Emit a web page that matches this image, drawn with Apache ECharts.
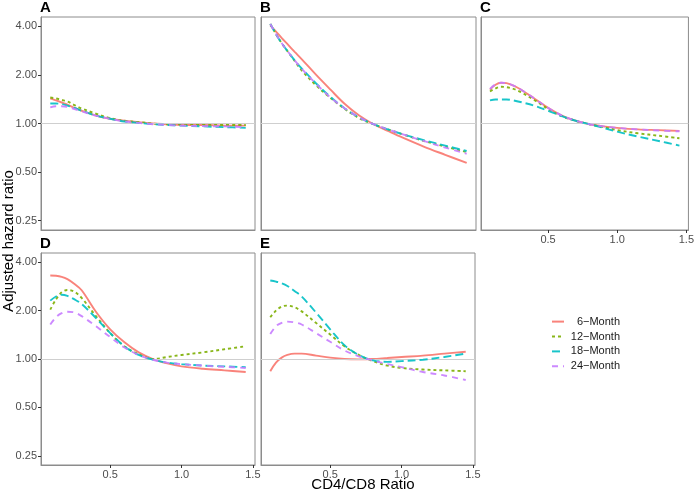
<!DOCTYPE html>
<html>
<head>
<meta charset="utf-8">
<script src="https://cdn.jsdelivr.net/npm/echarts@6/dist/echarts.min.js"></script>
<style>html,body{margin:0;padding:0;background:#fff;}#c{width:697px;height:493px;}</style>
</head>
<body>
<div id="c"></div>
<script>
// ---- data ----
const X = [0.08, 0.12, 0.16, 0.2, 0.25, 0.3, 0.4, 0.5, 0.6, 0.7, 0.8, 0.9, 1.0, 1.15, 1.3, 1.45];
const seriesNames = ['6\u2212Month', '12\u2212Month', '18\u2212Month', '24\u2212Month'];
const panelLabels = ['A', 'B', 'C', 'D', 'E'];
const yTicks = [0.25, 0.5, 1, 2, 4];
const xTicks = [0.5, 1.0, 1.5];

const A_m6  = [1.43, 1.39, 1.35, 1.31, 1.25, 1.20, 1.12, 1.07, 1.04, 1.02, 1.00, 0.99, 0.98, 0.98, 0.97, 0.97];
const A_m12 = [1.45, 1.43, 1.40, 1.37, 1.30, 1.24, 1.15, 1.08, 1.04, 1.02, 1.00, 0.99, 0.99, 0.985, 0.98, 0.98];
const A_m18 = [1.33, 1.33, 1.32, 1.29, 1.25, 1.20, 1.12, 1.07, 1.03, 1.01, 0.99, 0.98, 0.97, 0.96, 0.95, 0.94];
const A_m24 = [1.26, 1.28, 1.28, 1.27, 1.23, 1.19, 1.12, 1.07, 1.03, 1.01, 0.99, 0.98, 0.97, 0.965, 0.96, 0.95];

const B_m6  = [4.06, 3.71, 3.38, 3.10, 2.78, 2.50, 2.00, 1.62, 1.32, 1.12, 0.99, 0.90, 0.82, 0.72, 0.64, 0.57];
const B_m12 = [4.14, 3.58, 3.14, 2.81, 2.44, 2.13, 1.72, 1.44, 1.23, 1.08, 0.99, 0.92, 0.86, 0.78, 0.72, 0.665];
const B_m18 = [4.14, 3.58, 3.14, 2.81, 2.46, 2.19, 1.77, 1.46, 1.24, 1.09, 0.99, 0.92, 0.86, 0.79, 0.73, 0.676];
const B_m24 = [4.14, 3.58, 3.14, 2.81, 2.46, 2.18, 1.76, 1.45, 1.24, 1.09, 0.99, 0.92, 0.86, 0.78, 0.71, 0.65];

const C_m6  = [1.62, 1.74, 1.79, 1.78, 1.72, 1.63, 1.43, 1.25, 1.12, 1.04, 0.99, 0.96, 0.94, 0.92, 0.91, 0.90];
const C_m12 = [1.58, 1.65, 1.69, 1.68, 1.64, 1.57, 1.40, 1.23, 1.11, 1.04, 0.99, 0.95, 0.91, 0.87, 0.84, 0.81];
const C_m18 = [1.39, 1.41, 1.41, 1.41, 1.39, 1.36, 1.29, 1.20, 1.11, 1.04, 0.99, 0.94, 0.89, 0.83, 0.78, 0.73];
const C_m24 = [1.64, 1.75, 1.79, 1.78, 1.72, 1.63, 1.43, 1.25, 1.12, 1.04, 0.99, 0.96, 0.94, 0.92, 0.905, 0.895];

const D_m6  = [3.31, 3.30, 3.25, 3.14, 2.93, 2.68, 1.97, 1.53, 1.27, 1.10, 1.00, 0.94, 0.90, 0.87, 0.85, 0.83];
const D_m12 = [2.03, 2.35, 2.60, 2.69, 2.62, 2.40, 1.85, 1.45, 1.20, 1.07, 1.00, 1.03, 1.06, 1.10, 1.15, 1.20];
const D_m18 = [2.31, 2.45, 2.51, 2.47, 2.35, 2.20, 1.80, 1.45, 1.20, 1.06, 0.99, 0.95, 0.93, 0.91, 0.90, 0.89];
const D_m24 = [1.64, 1.82, 1.93, 1.97, 1.95, 1.85, 1.60, 1.37, 1.18, 1.06, 0.99, 0.95, 0.93, 0.91, 0.895, 0.88];

const E_m6  = [0.84, 0.95, 1.02, 1.06, 1.08, 1.08, 1.05, 1.02, 1.00, 0.995, 1.00, 1.015, 1.03, 1.05, 1.08, 1.11];
const E_m12 = [1.82, 2.00, 2.12, 2.15, 2.10, 1.98, 1.68, 1.42, 1.20, 1.06, 0.97, 0.91, 0.88, 0.86, 0.85, 0.84];
const E_m18 = [3.08, 3.03, 2.96, 2.85, 2.65, 2.45, 1.95, 1.53, 1.22, 1.06, 0.98, 0.96, 0.97, 0.99, 1.03, 1.08];
const E_m24 = [1.43, 1.60, 1.68, 1.71, 1.69, 1.64, 1.45, 1.28, 1.13, 1.04, 0.98, 0.93, 0.89, 0.83, 0.79, 0.74];

const panels = [
  [A_m6, A_m12, A_m18, A_m24],
  [B_m6, B_m12, B_m18, B_m24],
  [C_m6, C_m12, C_m18, C_m24],
  [D_m6, D_m12, D_m18, D_m24],
  [E_m6, E_m12, E_m18, E_m24]
];

// ---- styling / layout ----
const colors = ['#F8766D', '#7CAE00', '#00BFC4', '#C77CFF'];
const dashes = ['solid', [3, 3], [8, 4], [6, 5]];
const grids = [
  {left: 41, top: 17, width: 214, height: 213},
  {left: 261, top: 17, width: 215, height: 213},
  {left: 481, top: 17, width: 213, height: 213},
  {left: 41, top: 253, width: 214, height: 212},
  {left: 261, top: 253, width: 214, height: 212}
];
const showYLab = [true, false, false, true, false];
const showXLab = [false, false, true, true, true];
const FONT = '"Liberation Sans", Arial, sans-serif';
const borderCol = '#8c8c8c';

const option = {
  animation: false,
  backgroundColor: '#ffffff',
  textStyle: {fontFamily: FONT},
  grid: grids.map(g => Object.assign({show: true, borderColor: borderCol, borderWidth: 1, backgroundColor: 'transparent', containLabel: false}, g)),
  xAxis: grids.map((g, i) => ({
    type: 'value', gridIndex: i, min: 0.015, max: 1.515,
    axisLine: {show: true, lineStyle: {color: borderCol, width: 1}},
    splitLine: {show: false},
    axisTick: {show: showXLab[i], length: 3, lineStyle: {color: '#333'}, customValues: xTicks},
    axisLabel: {show: showXLab[i], customValues: xTicks, margin: 4, fontSize: 11, color: '#4d4d4d', fontFamily: FONT,
      formatter: v => Number(v).toFixed(1)}
  })),
  yAxis: grids.map((g, i) => ({
    type: 'log', logBase: 2, gridIndex: i, min: 0.219, max: 4.57,
    axisLine: {show: true, lineStyle: {color: borderCol, width: 1}},
    splitLine: {show: false},
    axisTick: {show: showYLab[i], length: 3, lineStyle: {color: '#333'}, customValues: yTicks},
    axisLabel: {show: showYLab[i], customValues: yTicks, margin: 4, fontSize: 11, color: '#4d4d4d', fontFamily: FONT,
      formatter: v => Number(v).toFixed(2)}
  })),
  legend: {
    orient: 'vertical', left: 551, top: 316, padding: 0,
    itemWidth: 12, itemHeight: 14, itemGap: 3.7,
    data: seriesNames,
    itemStyle: {opacity: 0},
    textStyle: {fontSize: 11, color: '#1a1a1a', fontFamily: FONT,
      rich: {r: {width: 51, align: 'right', fontSize: 11, color: '#1a1a1a', fontFamily: FONT}}},
    formatter: n => '{r|' + n + '}'
  },
  graphic: [],
  series: []
};

panelLabels.forEach((lab, i) => {
  option.graphic.push({type: 'text', left: grids[i].left - 1, top: grids[i].top - 17,
    style: {text: lab, font: 'bold 15px ' + FONT, fill: '#000'}});
});
option.graphic.push({type: 'text', x: 363, y: 477,
  style: {text: 'CD4/CD8 Ratio', font: '15px ' + FONT, fill: '#000', textAlign: 'center', textVerticalAlign: 'top'}});
option.graphic.push({type: 'text', x: 1, y: 241, rotation: Math.PI / 2,
  style: {text: 'Adjusted hazard ratio', font: '15px ' + FONT, fill: '#000', textAlign: 'center', textVerticalAlign: 'top'}});

panels.forEach((vals, i) => {
  // reference line at hazard ratio 1
  option.series.push({
    type: 'line', xAxisIndex: i, yAxisIndex: i, data: [], silent: true, name: '__ref' + i,
    markLine: {silent: true, symbol: 'none', label: {show: false}, animation: false,
      lineStyle: {color: '#cfcfcf', width: 1.2, type: 'solid'}, data: [{yAxis: 1}]}
  });
  vals.forEach((arr, k) => {
    option.series.push({
      name: seriesNames[k], type: 'line', xAxisIndex: i, yAxisIndex: i,
      data: X.map((x, j) => [x, arr[j]]),
      smooth: 0.35, showSymbol: false, symbol: 'none',
      color: colors[k],
      lineStyle: {color: colors[k], width: 1.9, type: dashes[k], opacity: 0.9},
      z: 3 + k
    });
  });
});

const chart = echarts.init(document.getElementById('c'), null, {renderer: 'canvas'});
chart.setOption(option);
</script>
</body>
</html>
